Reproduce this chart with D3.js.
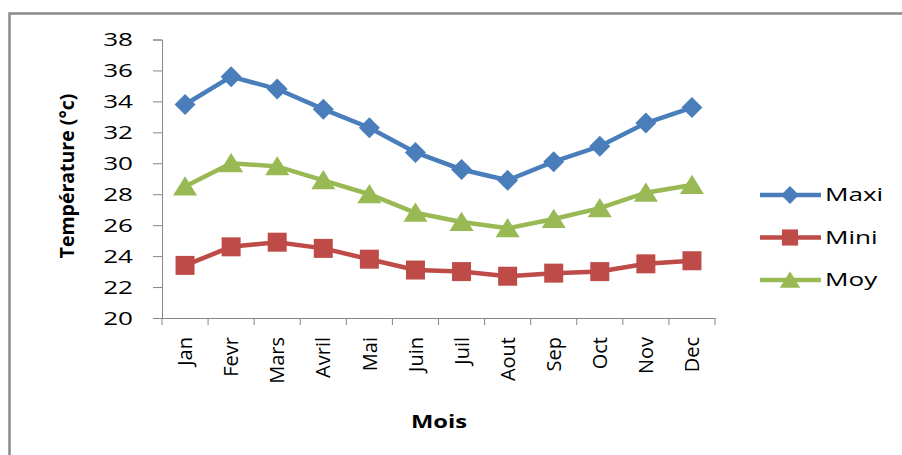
<!DOCTYPE html>
<html>
<head>
<meta charset="utf-8">
<script src="https://cdn.jsdelivr.net/npm/d3@7"></script>
<style>
  body { margin: 0; background: #fff; }
  text { font-family: "Open Sans", "Noto Sans", sans-serif; fill: #000; }
</style>
</head>
<body>
<svg id="render" width="902" height="455"></svg>
<script>
const months = ['Jan', 'Fevr', 'Mars', 'Avril', 'Mai', 'Juin', 'Juil', 'Aout', 'Sep', 'Oct', 'Nov', 'Dec'];
const maxi = [33.8, 35.6, 34.8, 33.5, 32.3, 30.7, 29.6, 28.9, 30.1, 31.1, 32.6, 33.6];
const mini = [23.4, 24.6, 24.9, 24.5, 23.8, 23.1, 23.0, 22.7, 22.9, 23.0, 23.5, 23.7];
const moy = [28.5, 30.0, 29.8, 28.9, 28.0, 26.8, 26.2, 25.8, 26.4, 27.1, 28.1, 28.6];
const yTicks = [20, 22, 24, 26, 28, 30, 32, 34, 36, 38];

// marker shapes, r = half width
const diamond = r => `M0,${-r}L${r},0L0,${r}L${-r},0Z`;
const square = r => `M${-r},${-r}H${r}V${r}H${-r}Z`;
const triangle = r => `M0,${-r * 0.85}L${r},${r * 0.75}H${-r}Z`;

const series = [
    {name: 'Maxi', values: maxi, color: '#4a7ebb', shape: diamond, r: 10.5},
    {name: 'Mini', values: mini, color: '#be4b48', shape: square, r: 9.5},
    {name: 'Moy', values: moy, color: '#98b954', shape: triangle, r: 12}
];

const svg = d3.select("svg#render");

// frame (only top and left edges visible)
svg.append("path")
    .attr("d", "M9.5,455 L9.5,13.5 L902,13.5")
    .attr("fill", "none")
    .attr("stroke", "#8a8a8a")
    .attr("stroke-width", 2.5);

const x = d3.scaleBand()
    .domain(months)
    .range([162, 715]);
const y = d3.scaleLinear()
    .domain([20, 38])
    .range([318, 39.5]);

const gy = svg.append("g")
    .attr("transform", "translate(162,0)")
    .call(d3.axisLeft(y).tickValues(yTicks).tickSize(9));
// stretched tick labels
gy.selectAll("text")
    .style("font-size", "18px")
    .attr("x", 0)
    .attr("dy", "0.36em")
    .attr("transform", "translate(-29,0) scale(1.45,1)");

const gx = svg.append("g")
    .attr("transform", "translate(0,318)")
    .call(d3.axisBottom(x).tickSize(0).tickPadding(0));
gx.selectAll("text")
    .style("font-size", "20px")
    .attr("transform", "rotate(-90)")
    .attr("text-anchor", "end")
    .attr("x", -19)
    .attr("y", 0)
    .attr("dy", "0.36em");
// tick marks at category boundaries
gx.selectAll(".bound")
    .data(d3.range(months.length + 1))
    .enter()
    .append("line")
    .attr("x1", i => 162 + i * x.step())
    .attr("x2", i => 162 + i * x.step())
    .attr("y1", 0)
    .attr("y2", 7)
    .attr("stroke", "#868686");

svg.selectAll(".domain").attr("stroke", "#868686");
gy.selectAll(".tick line").attr("stroke", "#868686");

const cx = d => x(d) + x.bandwidth() / 2;
const line = d3.line()
    .x((d, i) => cx(months[i]))
    .y(d => y(d));

series.forEach(s => {
    svg.append("path")
        .datum(s.values)
        .attr("fill", "none")
        .attr("stroke", s.color)
        .attr("stroke-width", 4.5)
        .attr("d", line);
    svg.append("g")
        .selectAll("path")
        .data(s.values)
        .enter()
        .append("path")
        .attr("transform", (d, i) => `translate(${cx(months[i])}, ${y(d)})`)
        .attr("d", s.shape(s.r))
        .attr("fill", s.color);
});

// legend
const legend = svg.append("g")
    .selectAll("g")
    .data(series)
    .enter()
    .append("g")
    .attr("transform", (d, i) => `translate(760, ${195 + i * 42.5})`);
legend.append("line")
    .attr("x1", 0).attr("x2", 61)
    .attr("stroke", d => d.color)
    .attr("stroke-width", 4.5);
legend.append("path")
    .attr("transform", "translate(30,0)")
    .attr("d", d => d.shape(d.r * 0.85))
    .attr("fill", d => d.color);
legend.append("text")
    .attr("transform", "translate(65,0) scale(1.45,1)")
    .attr("dy", "0.36em")
    .style("font-size", "18px")
    .text(d => d.name);

svg.append("text")
    .attr("transform", "translate(439,428) scale(1.32,1)")
    .attr("text-anchor", "middle")
    .style("font-size", "18px")
    .style("font-weight", "bold")
    .text("Mois");

svg.append("text")
    .attr("transform", "translate(74,176) rotate(-90)")
    .attr("text-anchor", "middle")
    .style("font-size", "19.5px")
    .style("font-weight", "bold")
    .text("Température (°c)");
</script>
</body>
</html>
